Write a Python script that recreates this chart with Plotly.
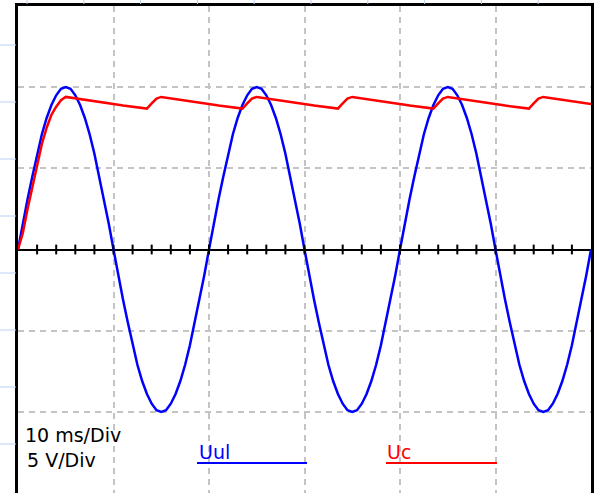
import plotly.graph_objects as go

# scope capture: 10 ms/Div, 5 V/Div, samples every 0.5 ms from 0 to 60 ms
sample_step_ms = 0.5

uul_volts = [
    0, 1.6, 3.1, 4.5, 5.9, 7.1, 8.1, 8.9, 9.5, 9.9, 10, 9.9, 9.5, 8.9, 8.1, 7.1, 5.9, 4.5, 3.1, 1.6,
    0, -1.6, -3.1, -4.5, -5.9, -7.1, -8.1, -8.9, -9.5, -9.9, -10, -9.9, -9.5, -8.9, -8.1, -7.1, -5.9, -4.5, -3.1, -1.6,
    0, 1.6, 3.1, 4.5, 5.9, 7.1, 8.1, 8.9, 9.5, 9.9, 10, 9.9, 9.5, 8.9, 8.1, 7.1, 5.9, 4.5, 3.1, 1.6,
    0, -1.6, -3.1, -4.5, -5.9, -7.1, -8.1, -8.9, -9.5, -9.9, -10, -9.9, -9.5, -8.9, -8.1, -7.1, -5.9, -4.5, -3.1, -1.6,
    0, 1.6, 3.1, 4.5, 5.9, 7.1, 8.1, 8.9, 9.5, 9.9, 10, 9.9, 9.5, 8.9, 8.1, 7.1, 5.9, 4.5, 3.1, 1.6,
    0, -1.6, -3.1, -4.5, -5.9, -7.1, -8.1, -8.9, -9.5, -9.9, -10, -9.9, -9.5, -8.9, -8.1, -7.1, -5.9, -4.5, -3.1, -1.6,
    0,
]

uc_volts = [
    0, 1.0, 2.5, 3.9, 5.3, 6.5, 7.5, 8.3, 8.8, 9.2, 9.4,
    9.36, 9.31, 9.27, 9.22, 9.18, 9.14, 9.09, 9.05, 9.0, 8.96, 8.92, 8.87, 8.83, 8.79, 8.74, 8.72, 8.68, 9.0, 9.3, 9.4,
    9.36, 9.31, 9.27, 9.22, 9.18, 9.14, 9.09, 9.05, 9.0, 8.96, 8.92, 8.87, 8.83, 8.79, 8.74, 8.72, 8.68, 9.0, 9.3, 9.4,
    9.36, 9.31, 9.27, 9.22, 9.18, 9.14, 9.09, 9.05, 9.0, 8.96, 8.92, 8.87, 8.83, 8.79, 8.74, 8.72, 8.68, 9.0, 9.3, 9.4,
    9.36, 9.31, 9.27, 9.22, 9.18, 9.14, 9.09, 9.05, 9.0, 8.96, 8.92, 8.87, 8.83, 8.79, 8.74, 8.72, 8.68, 9.0, 9.3, 9.4,
    9.36, 9.31, 9.27, 9.22, 9.18, 9.14, 9.09, 9.05, 9.0, 8.96, 8.92, 8.87, 8.83, 8.79, 8.74, 8.72, 8.68, 9.0, 9.3, 9.4,
    9.36, 9.31, 9.27, 9.22, 9.18, 9.14, 9.09, 9.05, 9.0, 8.96,
]

grid_ms = [10, 20, 30, 40, 50]
grid_volts = [-10, -5, 5, 10]
zero_axis_ticks_ms = [2, 4, 6, 8, 10, 12, 14, 16, 18, 20, 22, 24, 26, 28, 30,
                      32, 34, 36, 38, 40, 42, 44, 46, 48, 50, 52, 54, 56, 58]

W, H = 595, 493
L, R, T, B = 18, 4, 6, 0
PW, PH = W - L - R, H - T - B


def px(x):
    return (x - L) / PW


def py(y):
    return (H - B - y) / PH


fig = go.Figure()

fig.add_trace(go.Scatter(x0=0, dx=sample_step_ms, y=uul_volts, mode='lines',
                         line=dict(color='#0000ff', width=2.5), name='Uul'))
fig.add_trace(go.Scatter(x0=0, dx=sample_step_ms, y=uc_volts, mode='lines',
                         line=dict(color='#ff0000', width=2.5), name='Uc'))

# small ticks across the zero line
fig.add_trace(go.Scatter(x=zero_axis_ticks_ms, y=[0] * len(zero_axis_ticks_ms), mode='markers',
                         marker=dict(symbol='line-ns', size=7, line=dict(color='black', width=2)),
                         hoverinfo='skip'))

fig.update_layout(
    width=W, height=H,
    margin=dict(l=L, r=R, t=T, b=B),
    paper_bgcolor='white', plot_bgcolor='white',
    showlegend=False,
    font=dict(family='DejaVu Sans', size=19, color='black'),
)

fig.update_xaxes(range=[0, 60], tickmode='array', tickvals=grid_ms, showticklabels=False,
                 showgrid=True, gridcolor='#c4c4c4', gridwidth=2, griddash='6px,5px',
                 zeroline=False, showline=True, linecolor='black', linewidth=3, side='top',
                 mirror=False, ticks='')
fig.update_yaxes(range=[-15, 15], tickmode='array', tickvals=grid_volts, showticklabels=False,
                 showgrid=True, gridcolor='#c4c4c4', gridwidth=2, griddash='6px,5px',
                 zeroline=True, zerolinecolor='black', zerolinewidth=2,
                 showline=True, linecolor='black', linewidth=3, mirror=True, ticks='')

# faint blue marks left of and above the frame
shapes = []
for k in range(8):
    yy = 45 + 57 * k
    shapes.append(dict(type='line', xref='paper', yref='paper', x0=px(0), x1=px(16),
                       y0=py(yy), y1=py(yy), line=dict(color='#bcd0f4', width=1)))
for k in range(10):
    xx = 27 + 56.8 * k
    shapes.append(dict(type='line', xref='paper', yref='paper', x0=px(xx), x1=px(xx),
                       y0=py(0), y1=py(4), line=dict(color='#bcd0f4', width=1)))

# legend lines
shapes.append(dict(type='line', xref='paper', yref='paper', x0=px(197), x1=px(307),
                   y0=py(463), y1=py(463), line=dict(color='#0000ff', width=2)))
shapes.append(dict(type='line', xref='paper', yref='paper', x0=px(386), x1=px(497),
                   y0=py(463), y1=py(463), line=dict(color='#ff0000', width=2)))
fig.update_layout(shapes=shapes)

notes = [
    ('10 ms/Div', 23, 435, 'black'),
    ('5 V/Div', 25, 460, 'black'),
    ('Uul', 197, 452, '#0000ff'),
    ('Uc', 385, 452, '#ff0000'),
]
for text, x, y, color in notes:
    fig.add_annotation(text=text, xref='paper', yref='paper', x=px(x), y=py(y),
                       xanchor='left', yanchor='middle', showarrow=False,
                       font=dict(color=color, size=19, family='DejaVu Sans'))

# the page's default body margin would shift the figure by 8 px
fig.write_html("out.html", config={'displayModeBar': False},
               post_script="document.body.style.margin='0';")
